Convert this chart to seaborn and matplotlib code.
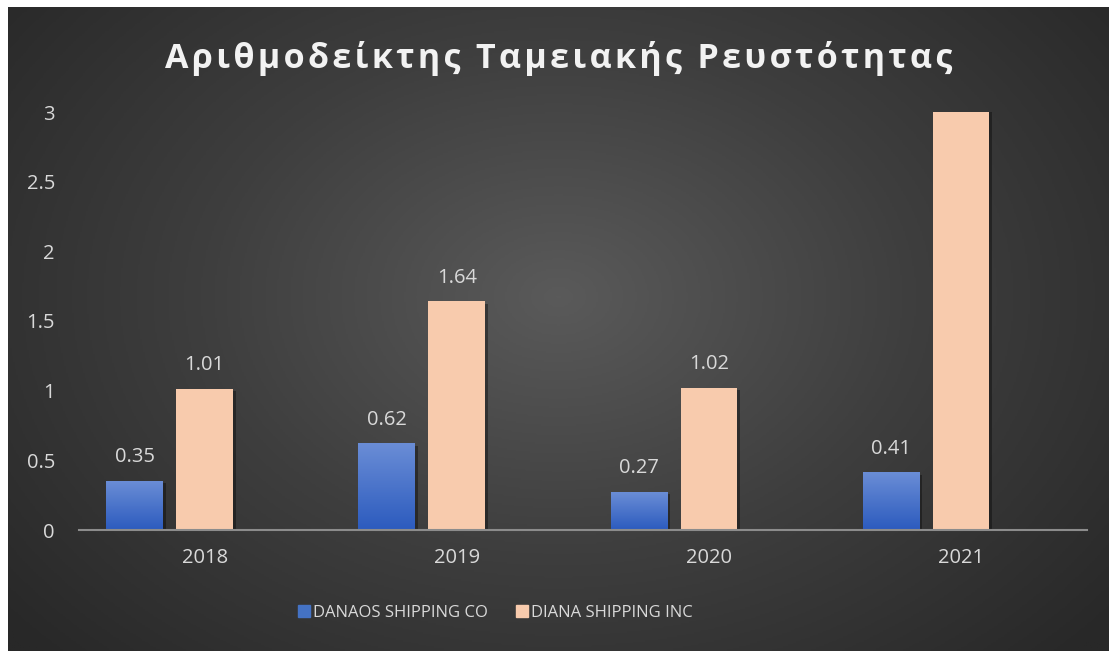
import numpy as np
import pandas as pd
import matplotlib
matplotlib.use("Agg")
import matplotlib.pyplot as plt
import matplotlib.patheffects as pe
from matplotlib.colors import LinearSegmentedColormap, to_rgba
import seaborn as sns

# chart data
years = ["2018", "2019", "2020", "2021"]
danaos = [0.35, 0.62, 0.27, 0.41]
diana = [1.01, 1.64, 1.02, 3.35]   # 2021 runs past the top of the axis
series = ["DANAOS SHIPPING CO", "DIANA SHIPPING INC"]
title = "Αριθμοδείκτης Ταμειακής Ρευστότητας"
y_ticks = [0, 0.5, 1, 1.5, 2, 2.5, 3]
y_tick_labels = ["0", "0.5", "1", "1.5", "2", "2.5", "3"]

df = pd.DataFrame({
    "year": years * 2,
    "company": [series[0]] * 4 + [series[1]] * 4,
    "value": danaos + diana,
})

sns.set_theme(style="white")
plt.rcParams["font.family"] = ["Open Sans", "DejaVu Sans"]

text_col = "#D9D9D9"
blue = "#4472C4"
peach = "#F8CBAD"

fig = plt.figure(figsize=(11.1, 6.51), dpi=100)
fig.patch.set_facecolor("white")

# radial gradient background
bg = fig.add_axes([8 / 1110, 0, 1101 / 1110, 644 / 651], zorder=-10)
yy, xx = np.mgrid[0:1:400j, 0:1:700j]
r = np.sqrt(((xx - 0.5) / 0.65) ** 2 + ((yy - 0.45) / 0.8) ** 2)
r = np.clip(r, 0, 1)
bg_cmap = LinearSegmentedColormap.from_list("bg", ["#5a5a5a", "#3e3e3e", "#282828"])
bg.imshow(r, cmap=bg_cmap, aspect="auto", extent=[0, 1, 0, 1], vmin=0, vmax=1)
bg.set_axis_off()

ax = fig.add_axes([78.6 / 1110, 1 - 530 / 651, (1087 - 78.6) / 1110, (530 - 112) / 651])
ax.set_facecolor("none")

# third empty hue level keeps DIANA centred on the category, like the original
sns.barplot(data=df, x="year", y="value", hue="company",
            hue_order=series + ["_blank"], order=years,
            palette={series[0]: blue, series[1]: peach, "_blank": "none"},
            width=0.833, gap=0.19, saturation=1, legend=False,
            edgecolor="none", linewidth=0, ax=ax)

ax.set_yticks(y_ticks)
ax.set_yticklabels(y_tick_labels)
ax.set_xlabel("")
ax.set_ylabel("")
ax.tick_params(axis="both", length=0, labelsize=14.5, colors=text_col)
ax.tick_params(axis="y", pad=17)
ax.tick_params(axis="x", pad=13)
for s in ["top", "right", "left"]:
    ax.spines[s].set_visible(False)
ax.spines["bottom"].set_color("#8c8c8c")
ax.spines["bottom"].set_linewidth(1.5)
ax.spines["bottom"].set_zorder(5)

blue_grad = LinearSegmentedColormap.from_list("bg2", ["#2C5BBE", "#6A8DD6"])
shadow = [pe.SimplePatchShadow(offset=(2, -1.5), shadow_rgbFace="black", alpha=0.35), pe.Normal()]
blue_rgba = to_rgba(blue)

for bar in ax.patches:
    val = bar.get_height()
    if np.isnan(val) or bar.get_width() == 0:
        continue
    if bar.get_facecolor()[3] == 0:
        continue
    bar.set_path_effects(shadow)
    x0 = bar.get_x()
    w = bar.get_width()
    top = min(val, 3)
    if np.allclose(bar.get_facecolor(), blue_rgba, atol=0.02):
        grad = np.linspace(0, 1, 100).reshape(-1, 1)
        ax.imshow(grad, cmap=blue_grad, aspect="auto", origin="lower",
                  extent=[x0, x0 + w, 0, top], zorder=bar.get_zorder() + 0.5,
                  interpolation="bilinear")
    if val <= 3:
        ax.annotate(f"{val:.2f}", (x0 + w / 2, val), xytext=(0, 10),
                    textcoords="offset points", ha="center", va="bottom",
                    fontsize=14.5, color=text_col)
ax.set_xlim(-0.5, len(years) - 0.5)
ax.set_ylim(0, 3)
ax.set_aspect("auto")

spaced_title = "\u200a".join(title)
fig.text(0.503, 1 - 58 / 651, spaced_title, ha="center", va="center",
         fontsize=24.5, fontweight="bold", color="#F2F2F2")

handles = [plt.Line2D([], [], marker="s", linestyle="none", markersize=8.5,
                      markerfacecolor=c, markeredgecolor=c) for c in (blue, peach)]
fig.legend(handles, series, loc="center", bbox_to_anchor=(0.446, 1 - 613 / 651),
           ncol=2, frameon=False, fontsize=12, labelcolor=text_col,
           handletextpad=0.15, columnspacing=1.6, handlelength=0.8)

fig.savefig("out.png", dpi=100, facecolor=fig.get_facecolor())
